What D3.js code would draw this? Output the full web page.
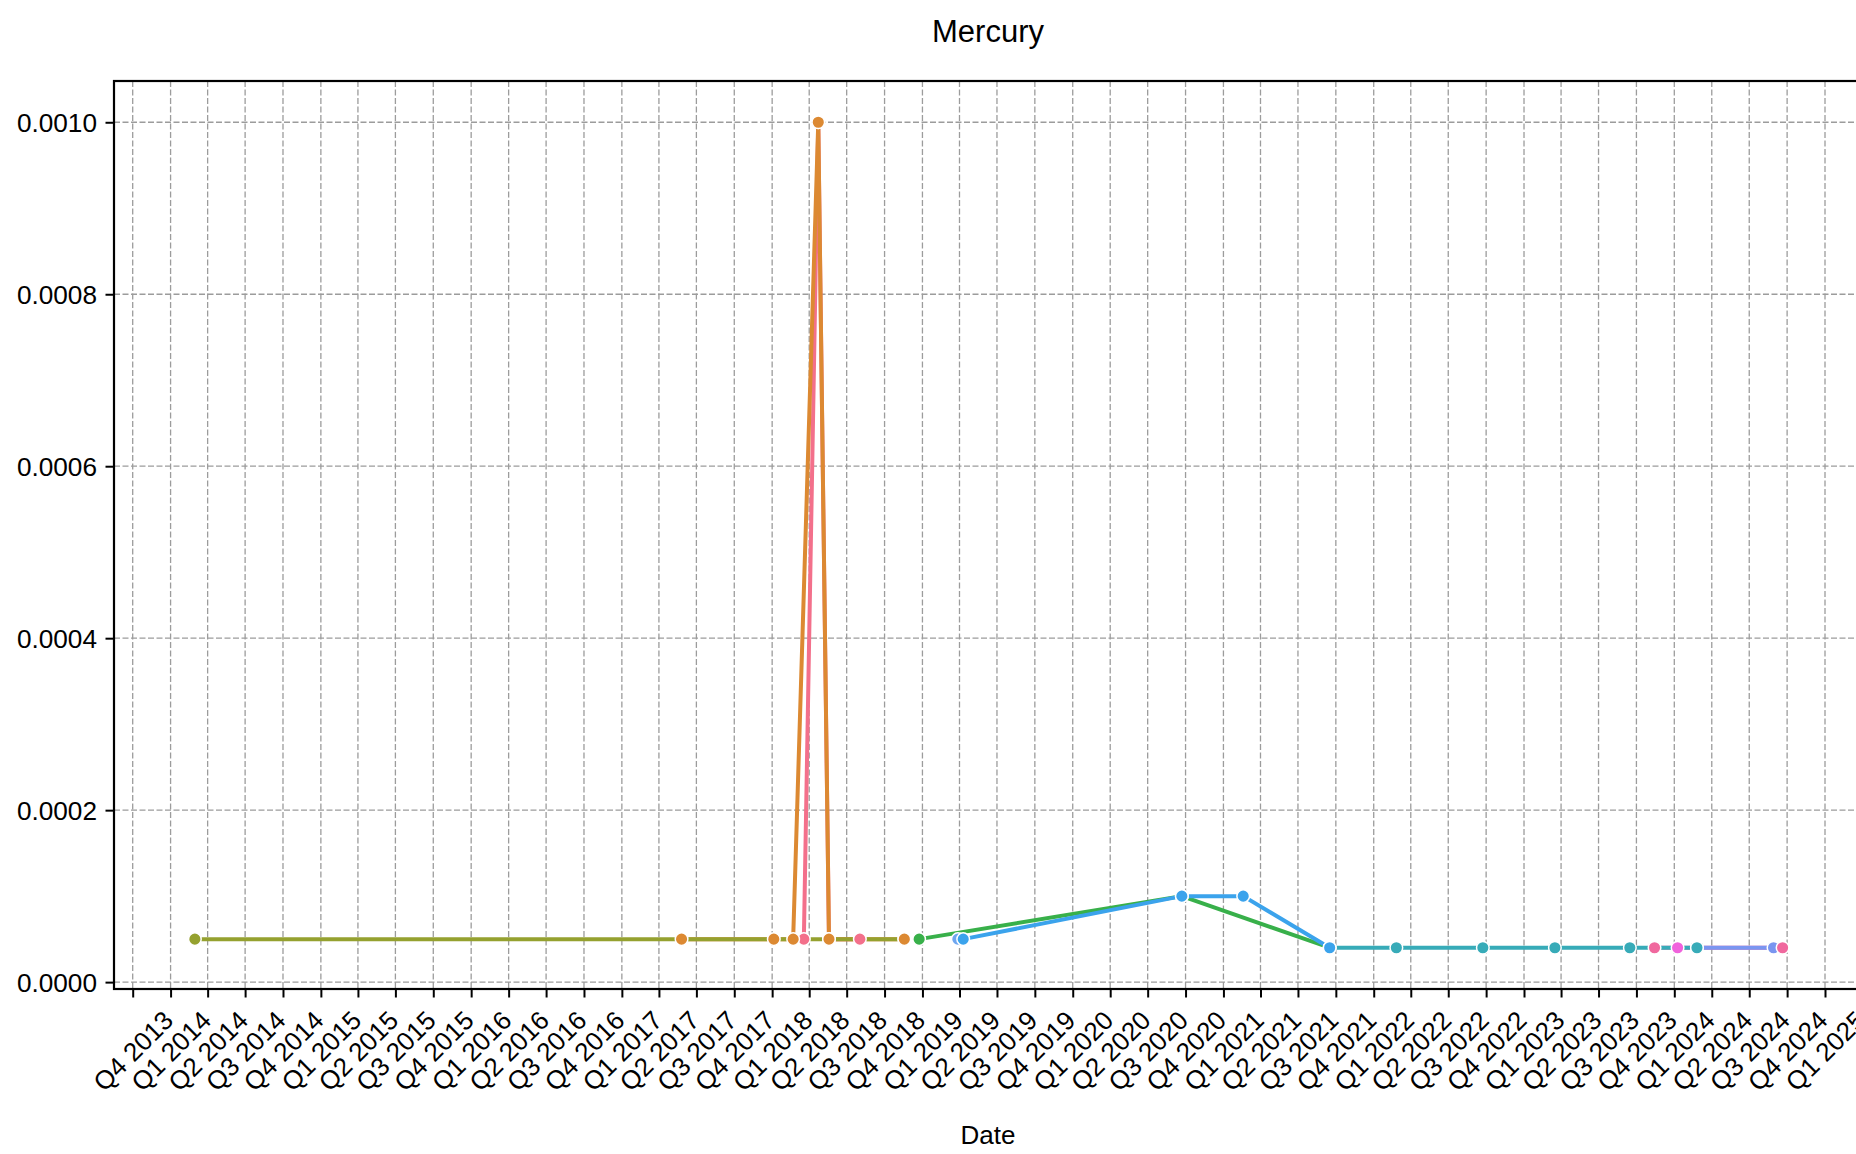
<!DOCTYPE html>
<html>
<head>
<meta charset="utf-8">
<script src="https://cdn.jsdelivr.net/npm/d3@7"></script>
<style>
  body { margin: 0; background: #fff; }
  text { font-family: "Liberation Sans", Arial, Helvetica, sans-serif; fill: #000; }
</style>
</head>
<body>
<script>
// Data (one array of dates and one of values per hue level)
const pinkDates = ['2018-03-19', '2018-04-23', '2018-05-19', '2018-08-02'];
const pinkValues = [0.00005, 0.001, 0.00005, 0.00005];

const orangeDates = ['2017-05-26', '2018-01-05', '2018-02-21', '2018-04-23', '2018-05-19', '2018-11-18'];
const orangeValues = [0.00005, 0.00005, 0.00005, 0.001, 0.00005, 0.00005];

const oliveDates = ['2014-03-01', '2018-11-18'];
const oliveValues = [0.00005, 0.00005];

const greenDates = ['2018-12-24', '2020-09-22', '2021-09-16'];
const greenValues = [0.00005, 0.0001, 0.00004];

const blueDates = ['2019-04-10', '2020-09-22', '2021-02-18', '2021-09-16'];
const blueValues = [0.00005, 0.0001, 0.0001, 0.00004];

const lightBlueDates = ['2019-03-28'];
const lightBlueValues = [0.00005];

const tealDates = ['2021-09-16', '2022-02-25', '2022-09-23', '2023-03-17', '2023-09-15', '2024-02-25'];
const tealValues = [0.00004, 0.00004, 0.00004, 0.00004, 0.00004, 0.00004];

const periwinkleDates = ['2024-02-25', '2024-08-29'];
const periwinkleValues = [0.00004, 0.00004];

const rosePinkDates = ['2023-11-14', '2024-09-20'];
const rosePinkValues = [0.00004, 0.00004];

const magentaDates = ['2024-01-09'];
const magentaValues = [0.00004];

const yTickValues = [0, 0.0002, 0.0004, 0.0006, 0.0008, 0.001];

const titleText = 'Mercury';
const xLabelText = 'Date';

const parse = d3.utcParse('%Y-%m-%d');
const makeSeries = (name, dates, values) => ({
  name,
  points: dates.map((d, i) => ({ date: parse(d), value: values[i] }))
});

const series = [
  makeSeries('pink', pinkDates, pinkValues),
  makeSeries('orange', orangeDates, orangeValues),
  makeSeries('olive', oliveDates, oliveValues),
  makeSeries('green', greenDates, greenValues),
  makeSeries('blue', blueDates, blueValues),
  makeSeries('rosePink', rosePinkDates, rosePinkValues),
  makeSeries('magenta', magentaDates, magentaValues),
  makeSeries('teal', tealDates, tealValues),
  makeSeries('periwinkle', periwinkleDates, periwinkleValues),
  makeSeries('lightBlue', lightBlueDates, lightBlueValues)
];

const colors = {
  pink: '#f3708b',
  orange: '#dc8932',
  olive: '#95a12f',
  green: '#38b04a',
  blue: '#3ba3ec',
  lightBlue: '#6ea6f0',
  teal: '#37abb8',
  periwinkle: '#7a95f0',
  rosePink: '#f0689e',
  magenta: '#f062dc'
};

// markers are stacked in a different order than the lines
const markerOrder = ['olive', 'pink', 'orange', 'green', 'lightBlue', 'periwinkle', 'teal', 'blue', 'rosePink', 'magenta'];

const width = 1856;
const height = 1154;
const plotLeft = 114, plotRight = 1862, plotTop = 81, plotBottom = 989;

const svg = d3.select('body').append('svg')
  .attr('width', width)
  .attr('height', height);

const x = d3.scaleUtc()
  .domain([parse('2013-10-01'), parse('2025-01-01')])
  .range([132.7, 1825]);

const y = d3.scaleLinear()
  .domain([-0.000008, 0.001048])
  .range([plotBottom, plotTop]);

const quarterTicks = d3.utcMonth.every(3).range(parse('2013-10-01'), parse('2025-01-02'));
const quarterLabel = d => `Q${Math.floor(d.getUTCMonth() / 3) + 1} ${d.getUTCFullYear()}`;

svg.append('defs').append('clipPath').attr('id', 'plot')
  .append('rect')
  .attr('x', plotLeft).attr('y', plotTop)
  .attr('width', plotRight - plotLeft).attr('height', plotBottom - plotTop);

// Grid
const grid = svg.append('g')
  .attr('stroke', '#9c9c9c')
  .attr('stroke-width', 1.3)
  .attr('stroke-dasharray', '6,2.5');

grid.selectAll('line.v')
  .data(quarterTicks)
  .enter().append('line')
  .attr('class', 'v')
  .attr('x1', d => x(d)).attr('x2', d => x(d))
  .attr('y1', plotTop).attr('y2', plotBottom);

grid.selectAll('line.h')
  .data(yTickValues)
  .enter().append('line')
  .attr('class', 'h')
  .attr('x1', plotLeft).attr('x2', plotRight)
  .attr('y1', d => y(d)).attr('y2', d => y(d));

// Lines
const plot = svg.append('g').attr('clip-path', 'url(#plot)');
const line = d3.line().x(d => x(d.date)).y(d => y(d.value));

plot.selectAll('path.series')
  .data(series.filter(s => s.points.length > 1))
  .enter().append('path')
  .attr('class', 'series')
  .attr('d', d => line(d.points))
  .attr('fill', 'none')
  .attr('stroke', d => colors[d.name])
  .attr('stroke-width', 4)
  .attr('stroke-linejoin', 'round');

// Markers
markerOrder.forEach(name => {
  const s = series.find(s => s.name === name);
  plot.append('g').selectAll('circle')
    .data(s.points)
    .enter().append('circle')
    .attr('cx', d => x(d.date))
    .attr('cy', d => y(d.value))
    .attr('r', 6.3)
    .attr('fill', colors[name])
    .attr('stroke', '#fff')
    .attr('stroke-width', 1.5);
});

// Axes
const xAxis = d3.axisBottom(x)
  .tickValues(quarterTicks)
  .tickFormat(quarterLabel)
  .tickSize(8.5)
  .tickSizeOuter(0);

const gx = svg.append('g')
  .attr('transform', `translate(0,${plotBottom})`)
  .call(xAxis);
gx.select('.domain').remove();
gx.selectAll('.tick line').attr('stroke', '#000').attr('stroke-width', 2);
gx.selectAll('.tick text')
  .attr('font-size', 26)
  .attr('text-anchor', 'middle')
  .attr('dominant-baseline', 'central')
  .attr('y', 0)
  .attr('dy', 0)
  .attr('transform', 'translate(0,62) rotate(-45)');

const yAxis = d3.axisLeft(y)
  .tickValues(yTickValues)
  .tickFormat(d3.format('.4f'))
  .tickSize(8.5)
  .tickSizeOuter(0);

const gy = svg.append('g')
  .attr('transform', `translate(${plotLeft},0)`)
  .call(yAxis);
gy.select('.domain').remove();
gy.selectAll('.tick line').attr('stroke', '#000').attr('stroke-width', 2);
gy.selectAll('.tick text')
  .attr('font-size', 26.2)
  .attr('x', -17)
  .attr('dy', '0.35em');

// Spines
svg.append('rect')
  .attr('x', plotLeft).attr('y', plotTop)
  .attr('width', plotRight - plotLeft).attr('height', plotBottom - plotTop)
  .attr('fill', 'none')
  .attr('stroke', '#000')
  .attr('stroke-width', 2.2);

// Titles
svg.append('text')
  .attr('x', (plotLeft + plotRight) / 2)
  .attr('y', 42)
  .attr('text-anchor', 'middle')
  .attr('font-size', 31)
  .text(titleText);

svg.append('text')
  .attr('x', (plotLeft + plotRight) / 2)
  .attr('y', 1144)
  .attr('text-anchor', 'middle')
  .attr('font-size', 26)
  .text(xLabelText);
</script>
</body>
</html>
